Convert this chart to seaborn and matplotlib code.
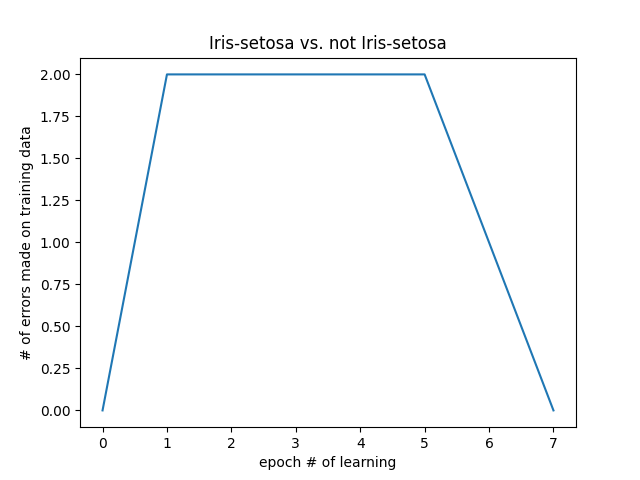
import matplotlib
matplotlib.use("Agg")
import matplotlib.pyplot as plt
import seaborn as sns

epochs = [0, 1, 2, 3, 4, 5, 6, 7]
errors = [0, 2, 2, 2, 2, 2, 1, 0]

fig, ax = plt.subplots(figsize=(6.4, 4.8), dpi=100)
sns.lineplot(x=epochs, y=errors, ax=ax, color="#1f77b4")
ax.set_yticks([0, 0.25, 0.5, 0.75, 1.0, 1.25, 1.5, 1.75, 2.0])
ax.set_yticklabels([f"{v:.2f}" for v in ax.get_yticks()])
ax.set_title("Iris-setosa vs. not Iris-setosa")
ax.set_xlabel("epoch # of learning")
ax.set_ylabel("# of errors made on training data")
fig.savefig("out.png")
